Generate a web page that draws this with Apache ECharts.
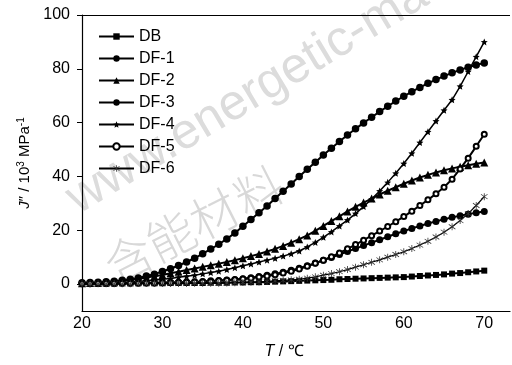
<!DOCTYPE html>
<html><head><meta charset="utf-8">
<script src="https://cdn.jsdelivr.net/npm/echarts@6/dist/echarts.min.js"></script>
<style>html,body{margin:0;padding:0;background:#fff}#c{width:512px;height:365px}</style>
</head><body><div id="c"></div>
<script>
const temps = [20,21,22,23,24,25,26,27,28,29,30,31,32,33,34,35,36,37,38,39,40,41,42,43,44,45,46,47,48,49,50,51,52,53,54,55,56,57,58,59,60,61,62,63,64,65,66,67,68,69,70];
const seriesNames = ['DB','DF-1','DF-2','DF-3','DF-4','DF-5','DF-6'];
const DB  = [0.2,0.2,0.2,0.2,0.2,0.3,0.3,0.3,0.3,0.3,0.3,0.4,0.4,0.4,0.4,0.4,0.5,0.5,0.5,0.6,0.6,0.7,0.7,0.8,0.9,1.0,1.1,1.2,1.3,1.4,1.5,1.6,1.8,1.9,2.0,2.1,2.2,2.3,2.4,2.5,2.6,2.8,3.0,3.2,3.4,3.6,3.9,4.1,4.4,4.7,5.0];
const DF1 = [0.5,0.6,0.7,0.9,1.1,1.4,1.8,2.3,3.0,3.7,4.7,5.7,6.9,8.2,9.6,11.3,13.0,14.8,16.8,19.0,21.5,24.0,26.5,29.0,31.8,34.5,37.2,40.0,42.7,45.3,48.0,50.5,53.0,55.4,57.7,59.9,62.0,64.1,66.1,68.0,69.8,71.5,73.1,74.6,76.0,77.3,78.5,79.6,80.6,81.4,82.2];
const DF2 = [0.3,0.4,0.5,0.7,0.9,1.2,1.5,1.9,2.4,2.9,3.4,4.0,4.6,5.2,5.8,6.4,7.0,7.6,8.2,8.9,9.6,10.4,11.2,12.1,13.1,14.2,15.4,16.7,18.1,19.8,21.6,23.4,25.2,27.0,28.7,30.3,31.8,33.3,34.7,36.0,37.3,38.5,39.6,40.6,41.5,42.3,43.0,43.6,44.2,44.7,45.2];
const DF3 = [0.2,0.3,0.3,0.3,0.4,0.4,0.4,0.5,0.5,0.5,0.6,0.7,0.7,0.8,0.9,1.0,1.2,1.3,1.5,1.7,2.0,2.4,2.8,3.3,3.8,4.4,5.1,5.9,6.8,7.8,8.9,9.9,11.0,12.1,13.2,14.3,15.4,16.5,17.6,18.7,19.7,20.7,21.6,22.5,23.3,24.1,24.8,25.4,26.0,26.5,27.0];
const DF4 = [0.2,0.2,0.3,0.4,0.5,0.6,0.8,1.0,1.2,1.5,1.8,2.1,2.5,2.9,3.3,3.8,4.3,4.8,5.4,6.1,6.8,7.5,8.2,8.9,9.6,10.4,11.3,12.3,13.8,15.5,17.4,19.4,21.6,23.8,26.2,28.8,31.6,34.6,37.8,41.2,44.8,48.6,52.6,56.6,60.6,64.6,68.5,73.5,79.0,84.5,90.0];
const DF5 = [0.1,0.1,0.2,0.2,0.2,0.3,0.3,0.3,0.4,0.4,0.5,0.5,0.6,0.7,0.8,0.9,1.0,1.2,1.4,1.6,1.9,2.2,2.6,3.0,3.5,4.1,4.8,5.6,6.6,7.7,8.9,10.2,11.6,13.1,14.7,16.3,18.0,19.7,21.4,23.2,25.1,27.1,29.2,31.3,33.6,36.0,39.0,42.8,46.8,51.2,55.7];
const DF6 = [0.1,0.1,0.1,0.1,0.1,0.1,0.1,0.2,0.2,0.2,0.2,0.2,0.2,0.2,0.3,0.3,0.3,0.3,0.4,0.5,0.6,0.7,0.8,1.0,1.2,1.4,1.6,1.8,2.2,2.7,3.3,3.9,4.6,5.4,6.3,7.2,8.1,9.0,10.0,11.0,12.0,13.2,14.5,15.9,17.5,19.3,21.3,23.6,26.2,29.2,32.5];
const yTicks = [0,20,40,60,80,100];
const xTicks = [20,30,40,50,60,70];
const xMin = 20, xMax = 73.2, yMin = -10, yMax = 100;
const watermarkLatin = 'www.energetic-materials.org.cn';
const watermarkCJK = ['含','能','材','料'];

const FONT = "'Liberation Sans',Arial,sans-serif";
const STAR = 'path://M10,0 L12.9,6.9 L20,7.6 L14.6,12.3 L16.2,19.3 L10,15.6 L3.8,19.3 L5.4,12.3 L0,7.6 L7.1,6.9 Z';
const ASTER = 'path://M9,0 L11,0 L11,20 L9,20 Z M1.34,4.13 L2.34,2.4 L18.66,15.87 L17.66,17.6 Z M17.66,2.4 L18.66,4.13 L2.34,17.6 L1.34,15.87 Z';

const dataSets = [DB, DF1, DF2, DF3, DF4, DF5, DF6];
const styles = [
  {symbol:'rect', size:6, lw:2},
  {symbol:'circle', size:7.5, lw:2},
  {symbol:'triangle', size:8, lw:2},
  {symbol:'circle', size:7, lw:2},
  {symbol:STAR, size:7, lw:1.5},
  {symbol:'circle', size:5, lw:2, hollow:true},
  {symbol:ASTER, size:7, lw:1.2, color:'#333'}
];

const series = seriesNames.map((n,i)=>({
  name:n, type:'line',
  data: temps.map((t,j)=>[t, dataSets[i][j]]),
  symbol: styles[i].symbol, symbolSize: styles[i].size,
  showAllSymbol: true,
  lineStyle:{color:'#000', width:styles[i].lw},
  itemStyle: styles[i].hollow
     ? {color:'#fff', borderColor:'#000', borderWidth:2}
     : {color: styles[i].color || '#000', borderWidth:0},
  animation:false
}));

const cjkPos = [[129,258],[171,236],[214,214],[259,191]];
const graphics = [
  {type:'text', z:-10, silent:true, x:84, y:224, rotation:0.54,
   style:{text:watermarkLatin, fontSize:50, fontFamily:FONT, fill:'#dcdcdc', textVerticalAlign:'bottom'}}
].concat(watermarkCJK.map((ch,k)=>({
   type:'text', z:-10, silent:true, x:cjkPos[k][0], y:cjkPos[k][1], rotation:0.47,
   style:{text:ch, fontSize:48, fontFamily:"'Noto Sans CJK SC',sans-serif", fontWeight:300, fill:'#d8d8d8', textAlign:'center', textVerticalAlign:'middle'}
})));

const chart = echarts.init(document.getElementById('c'), null, {renderer:'canvas'});
chart.setOption({
  animation:false,
  backgroundColor:'#fff',
  textStyle:{fontFamily:FONT},
  grid:{left:82, right:2, top:15, bottom:49, containLabel:false},
  legend:{
    orient:'vertical', left:93, top:23, itemWidth:35, itemHeight:8, itemGap:5,
    textStyle:{fontSize:16, fontFamily:FONT, color:'#000', lineHeight:17},
    data: seriesNames
  },
  xAxis:{
    type:'value', min:xMin, max:xMax, interval:10,
    axisLine:{onZero:false, lineStyle:{color:'#000', width:1.2}},
    axisTick:{show:false},
    splitLine:{show:false},
    axisLabel:{customValues:xTicks, fontSize:16, fontFamily:FONT, color:'#000', margin:5},
    name:'{it|T} / ℃', nameLocation:'middle', nameGap:33,
    nameTextStyle:{fontSize:16, fontFamily:FONT, color:'#000', padding:[0,24,0,0],
      rich:{it:{fontStyle:'italic', fontSize:16, fontFamily:FONT, color:'#000'}}}
  },
  yAxis:{
    type:'value', min:yMin, max:yMax,
    axisLine:{show:true, onZero:false, lineStyle:{color:'#000', width:1.2}},
    axisTick:{show:true, customValues:yTicks, length:5, lineStyle:{color:'#000'}},
    splitLine:{show:false},
    axisLabel:{customValues:yTicks, fontSize:16, fontFamily:FONT, color:'#000', margin:12},
    name:'{it|J}″ / 10{sup|3} MPa{sup|-1}', nameLocation:'middle', nameGap:42, nameRotate:90,
    nameTextStyle:{fontSize:15, fontFamily:FONT, color:'#000',
      rich:{it:{fontStyle:'italic', fontSize:15, fontFamily:FONT, color:'#000'},
            sup:{fontSize:10, fontFamily:FONT, color:'#000', verticalAlign:'top', padding:[0,0,8,0]}}}
  },
  graphic: graphics,
  series: series
});
// top frame line, positioned through the chart's own scales
const pA = chart.convertToPixel({xAxisIndex:0, yAxisIndex:0}, [xMin, yMax]);
const pB = chart.convertToPixel({xAxisIndex:0, yAxisIndex:0}, [xMax, yMax]);
chart.setOption({graphic: graphics.concat([{
  type:'line', silent:true, z:50,
  shape:{x1:pA[0], y1:Math.round(pA[1])+0.5, x2:pB[0], y2:Math.round(pB[1])+0.5},
  style:{stroke:'#000', lineWidth:1.2}
}])});
</script></body></html>
